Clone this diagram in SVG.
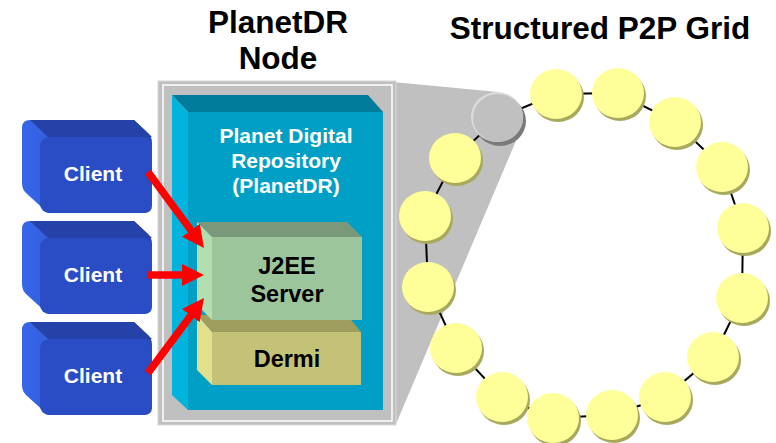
<svg xmlns="http://www.w3.org/2000/svg" width="776" height="443" viewBox="0 0 776 443">
<style>
  .t { font-family: "Liberation Sans", Arial, sans-serif; font-weight: bold; text-anchor: middle; }
  .title { font-size: 31.5px; fill: #000; }
  .white { font-size: 21px; fill: #fff; }
  .black { font-size: 23.5px; fill: #000; }
  .client { font-size: 21px; fill: #fff; }
  .arrow { stroke: #ff0000; stroke-width: 7.5; fill: none; marker-end: url(#ah); }
  .ring { stroke: #000; stroke-width: 2; fill: none; }
  .sh { fill: #a9a95e; }
  .yc { fill: #ffff99; }
</style>
<defs>
  <marker id="ah" markerUnits="userSpaceOnUse" markerWidth="24" markerHeight="24" refX="7" refY="11" orient="auto">
    <path d="M0,0 L22,11 L0,22 z" fill="#ff0000"/>
  </marker>
  <linearGradient id="cl" x1="0" y1="0" x2="1" y2="0">
    <stop offset="0" stop-color="#3766ea"/>
    <stop offset="1" stop-color="#2646b4"/>
  </linearGradient>
  <g id="clientShape">
    <path d="M28,0 H112 L126,13 Q130,17 130,23 V85 Q130,93 122,93 H26 L4,73 Q0,69 0,63 V8 Q0,0 8,0 Z" fill="url(#cl)"/>
    <path d="M8,0 H112 L130,17 H26 Z" fill="#2442a8"/>
    <rect x="18" y="17" width="112" height="76" rx="9" fill="#2a4cc4"/>
  </g>
  <g id="yball">
    <ellipse cx="2" cy="3" rx="26" ry="25" class="sh"/>
    <ellipse cx="0" cy="0" rx="26" ry="25" class="yc"/>
  </g>
</defs>

<g id="titles">
  <text class="t title" x="278" y="33">PlanetDR</text>
  <text class="t title" x="278" y="69">Node</text>
  <text class="t title" x="600" y="39">Structured P2P Grid</text>
</g>

<g id="planetdr-node">
  <polygon points="393,82 498,92 524,122 396,424 393,424" fill="#c0c0c0"/>
  <rect x="158" y="81" width="238" height="344" fill="#c0c0c0" stroke="#d8d8d8" stroke-width="1"/>
  <rect x="163" y="85" width="229" height="336" fill="none" stroke="#ffffff" stroke-width="1.5"/>
</g>

<g id="planet-digital-repository">
  <polygon points="172,95 368,95 383,112 188,112" fill="#007b9a"/>
  <polygon points="172,95 188,112 188,410 172,395" fill="#00b4de"/>
  <rect x="188" y="112" width="195" height="298" fill="#00a0c6"/>
  <text class="t white" x="286" y="143">Planet Digital</text>
  <text class="t white" x="286" y="168">Repository</text>
  <text class="t white" x="286" y="193">(PlanetDR)</text>
</g>

<g id="dermi">
  <polygon points="197,315 347,315 361,332 212,332" fill="#a09e5c"/>
  <polygon points="197,315 212,332 212,385 197,370" fill="#e2e08a"/>
  <rect x="212" y="332" width="149" height="53" fill="#c3c277"/>
  <text class="t black" x="287" y="367">Dermi</text>
</g>

<g id="j2ee-server">
  <polygon points="197,222 347,222 362,237 212,237" fill="#7a987a"/>
  <polygon points="197,222 212,237 212,320 197,305" fill="#b2deb0"/>
  <rect x="212" y="237" width="150" height="83" fill="#9dc59c"/>
  <text class="t black" x="287" y="274">J2EE</text>
  <text class="t black" x="287" y="302">Server</text>
</g>

<g id="client-1">
  <use href="#clientShape" x="22" y="120"/>
  <text class="t client" x="93" y="181">Client</text>
</g>
<g id="client-2">
  <use href="#clientShape" x="22" y="221"/>
  <text class="t client" x="93" y="282">Client</text>
</g>
<g id="client-3">
  <use href="#clientShape" x="22" y="322"/>
  <text class="t client" x="93" y="383">Client</text>
</g>

<g id="connectors">
  <line class="arrow" x1="148" y1="172" x2="195.1" y2="235.9"/>
  <line class="arrow" x1="148" y1="275" x2="189" y2="275"/>
  <line class="arrow" x1="148" y1="373" x2="195" y2="310"/>
  <polygon class="ring" points="498,118 455,158 425,216 428,287 456,348 502,397 553,418 612,415 665,397 713,357 742,298 743,228 722,167 675,122 618,93 556,94"/>
</g>

<g id="grid-node-local">
  <ellipse cx="500" cy="121" rx="26" ry="25" fill="#7a7a7a"/>
  <ellipse cx="497" cy="117" rx="26" ry="25" fill="#dcdcdc"/>
  <ellipse cx="498" cy="118" rx="25" ry="24" fill="#c0c0c0"/>
</g>
<g id="grid-node-2"><use href="#yball" x="455" y="158"/></g>
<g id="grid-node-3"><use href="#yball" x="425" y="216"/></g>
<g id="grid-node-4"><use href="#yball" x="428" y="287"/></g>
<g id="grid-node-5"><use href="#yball" x="456" y="348"/></g>
<g id="grid-node-6"><use href="#yball" x="502" y="397"/></g>
<g id="grid-node-7"><use href="#yball" x="553" y="418"/></g>
<g id="grid-node-8"><use href="#yball" x="612" y="415"/></g>
<g id="grid-node-9"><use href="#yball" x="665" y="397"/></g>
<g id="grid-node-10"><use href="#yball" x="713" y="357"/></g>
<g id="grid-node-11"><use href="#yball" x="742" y="298"/></g>
<g id="grid-node-12"><use href="#yball" x="743" y="228"/></g>
<g id="grid-node-13"><use href="#yball" x="722" y="167"/></g>
<g id="grid-node-14"><use href="#yball" x="675" y="122"/></g>
<g id="grid-node-15"><use href="#yball" x="618" y="93"/></g>
<g id="grid-node-16"><use href="#yball" x="556" y="94"/></g>
</svg>
